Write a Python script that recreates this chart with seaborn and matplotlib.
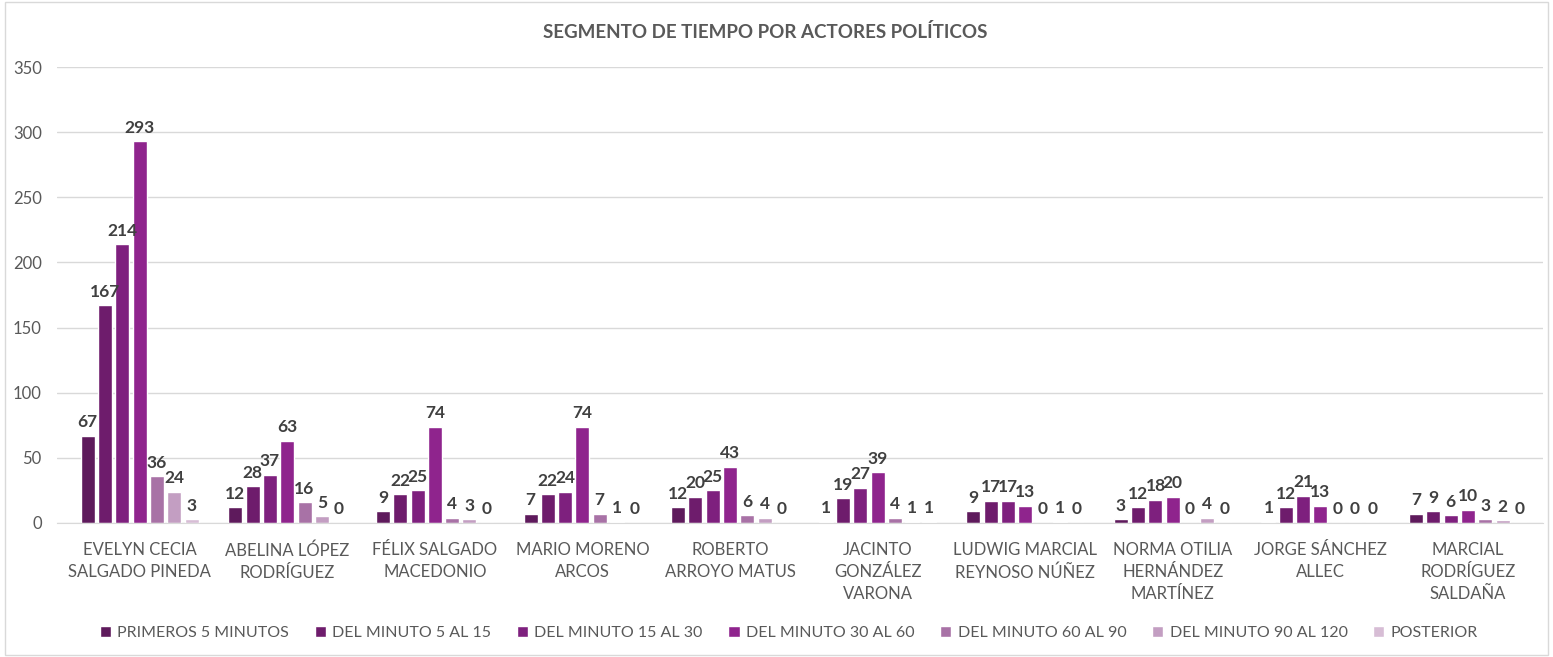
import matplotlib
matplotlib.use("Agg")
import matplotlib.pyplot as plt
import seaborn as sns
import pandas as pd

actors = [
    "EVELYN CECIA\nSALGADO PINEDA",
    "ABELINA LÓPEZ\nRODRÍGUEZ",
    "FÉLIX SALGADO\nMACEDONIO",
    "MARIO MORENO\nARCOS",
    "ROBERTO\nARROYO MATUS",
    "JACINTO\nGONZÁLEZ\nVARONA",
    "LUDWIG MARCIAL\nREYNOSO NÚÑEZ",
    "NORMA OTILIA\nHERNÁNDEZ\nMARTÍNEZ",
    "JORGE SÁNCHEZ\nALLEC",
    "MARCIAL\nRODRÍGUEZ\nSALDAÑA",
]
segments = [
    "PRIMEROS 5 MINUTOS",
    "DEL MINUTO 5 AL 15",
    "DEL MINUTO 15 AL 30",
    "DEL MINUTO 30 AL 60",
    "DEL MINUTO 60 AL 90",
    "DEL MINUTO 90 AL 120",
    "POSTERIOR",
]
primeros = [67, 12, 9, 7, 12, 1, 9, 3, 1, 7]
min5_15 = [167, 28, 22, 22, 20, 19, 17, 12, 12, 9]
min15_30 = [214, 37, 25, 24, 25, 27, 17, 18, 21, 6]
min30_60 = [293, 63, 74, 74, 43, 39, 13, 20, 13, 10]
min60_90 = [36, 16, 4, 7, 6, 4, 0, 0, 0, 3]
min90_120 = [24, 5, 3, 1, 4, 1, 1, 4, 0, 2]
posterior = [3, 0, 0, 0, 0, 1, 0, 0, 0, 0]
series = [primeros, min5_15, min15_30, min30_60, min60_90, min90_120, posterior]

colors = ["#5E1A5C", "#6E1C6C", "#7E207E", "#8F248D", "#A872A6", "#C39EC2", "#D7BDD5"]

rows = []
for seg, vals in zip(segments, series):
    for a, v in zip(actors, vals):
        rows.append({"actor": a, "segment": seg, "value": v})
df = pd.DataFrame(rows)

sns.set_style("white")
plt.rcParams["font.family"] = ["Lato", "DejaVu Sans"]

fig = plt.figure(figsize=(15.53, 6.57), dpi=100)
ax = fig.add_axes([0.0367, 0.204, 0.957, 0.694])

sns.barplot(data=df, x="actor", y="value", hue="segment", hue_order=segments,
            order=actors, palette=colors, width=0.82, gap=0.19, saturation=1,
            ax=ax, legend=True)

for cont in ax.containers:
    ax.bar_label(cont, fmt="%d", padding=4, fontsize=12.5, fontweight="bold", color="#404040")

ax.set_ylim(0, 350)
ax.set_yticks(range(0, 351, 50))
ax.set_xlim(-0.56, len(actors) - 0.49)
ax.yaxis.grid(True, color="#D9D9D9", linewidth=1)
ax.set_axisbelow(True)
for s in ["top", "right", "left"]:
    ax.spines[s].set_visible(False)
ax.spines["bottom"].set_color("#D9D9D9")
ax.tick_params(axis="both", length=0, labelsize=12, colors="#595959")
ax.tick_params(axis="x", pad=14)
ax.tick_params(axis="y", pad=11)
ax.set_xlabel("")
ax.set_ylabel("")
for lbl in ax.get_xticklabels():
    lbl.set_linespacing(1.45)

fig.text(0.493, 0.951, "SEGMENTO DE TIEMPO POR ACTORES POLÍTICOS", ha="center", va="center",
         fontsize=13.5, fontweight="bold", color="#595959")

handles, labels = ax.get_legend_handles_labels()
ax.get_legend().remove()
fig.legend(handles, labels, loc="center", bbox_to_anchor=(0.508, 0.036), ncol=7,
           frameon=False, fontsize=11.5, handlelength=0.7, handleheight=0.7,
           handletextpad=0.4, columnspacing=1.6, labelcolor="#595959")

fig.patches.append(plt.Rectangle((0.003, 0.003), 0.994, 0.994, transform=fig.transFigure,
                                 fill=False, edgecolor="#D9D9D9", linewidth=1))

fig.savefig("out.png", dpi=100)
